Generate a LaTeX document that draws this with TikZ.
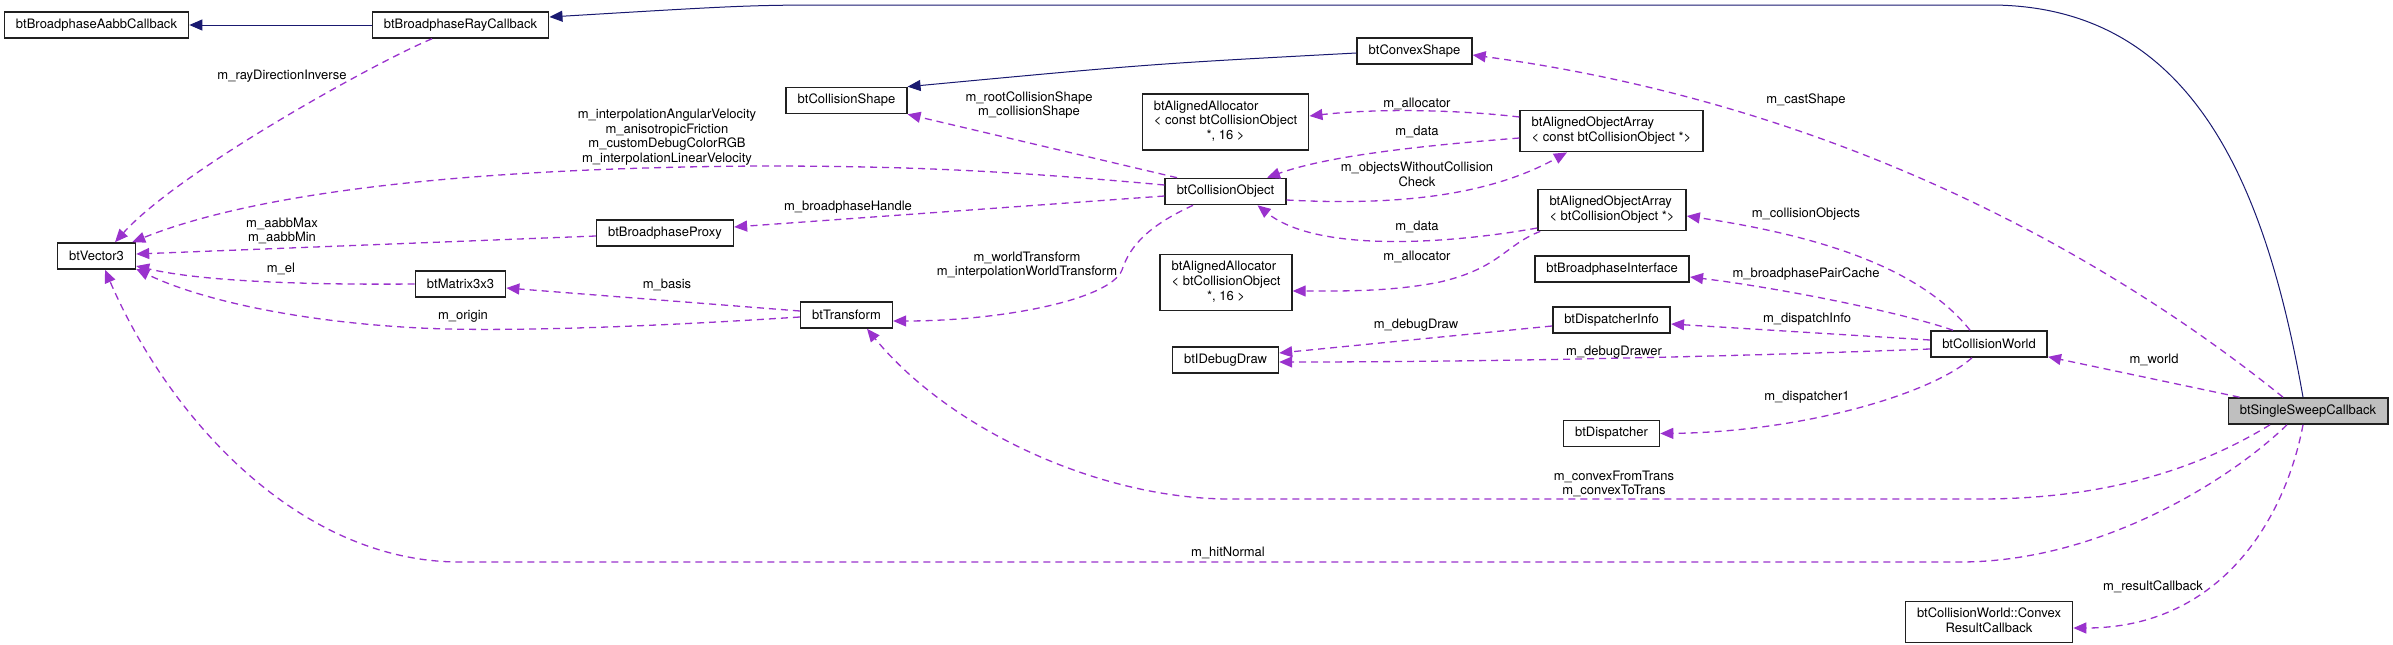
\documentclass[tikz,border=0pt]{standalone}
\usepackage{fontspec}
\setmainfont{TeX Gyre Heros}
\usetikzlibrary{arrows.meta}
\definecolor{membercol}{HTML}{9A32CD}
\definecolor{inhcol}{HTML}{191970}
\definecolor{boxline}{HTML}{202020}
\definecolor{mainfill}{HTML}{BFBFBF}
\begin{document}
\begin{tikzpicture}[
        x=1pt, y=-1pt,
        font=\fontsize{13}{14.6}\selectfont,
        box/.style={draw=boxline, line width=1.6pt, fill=white, minimum height=26pt, inner xsep=11.5pt, inner ysep=6pt},
        mainbox/.style={box, fill=mainfill},
        inherit/.style={draw=inhcol, line width=1pt, -{Triangle[length=13pt,width=11pt]}},
        member/.style={draw=membercol, line width=1.3pt, dash pattern=on 7pt off 5pt, -{Triangle[length=13pt,width=11pt]}},
        lbl/.style={align=center, inner sep=0pt},
    ]
    \useasboundingbox (0,0) rectangle (2393,645);

    \node[box](aabb) at (96.5,25) {btBroadphaseAabbCallback};
    \node[box](ray) at (460.5,25) {btBroadphaseRayCallback};
    \node[box](convex) at (1414.5,51) {btConvexShape};
    \node[box](cshape) at (846.5,100.5) {btCollisionShape};
    \node[box](allocc) at (1225.5,122) {\begin{tabular}{@{}l@{}}btAlignedAllocator\\< const btCollisionObject\\\multicolumn{1}{@{}c@{}}{*, 16 >}\end{tabular}};
    \node[box](arrc) at (1611.5,131) {\begin{tabular}{@{}l@{}}btAlignedObjectArray\\< const btCollisionObject *>\end{tabular}};
    \node[box](cobj) at (1225.5,191.5) {btCollisionObject};
    \node[box](vec) at (96.5,256) {btVector3};
    \node[box](proxy) at (665,233) {btBroadphaseProxy};
    \node[box](mat) at (460.5,284) {btMatrix3x3};
    \node[box](trans) at (846.5,315) {btTransform};
    \node[box](arr) at (1612,210) {\begin{tabular}{@{}l@{}}btAlignedObjectArray\\< btCollisionObject *>\end{tabular}};
    \node[box](alloc) at (1226,282.5) {\begin{tabular}{@{}l@{}}btAlignedAllocator\\< btCollisionObject\\\multicolumn{1}{@{}c@{}}{*, 16 >}\end{tabular}};
    \node[box](bpi) at (1612,269) {btBroadphaseInterface};
    \node[box](dinfo) at (1611.5,320) {btDispatcherInfo};
    \node[box](debug) at (1225.5,360) {btIDebugDraw};
    \node[box](world) at (1989,344) {btCollisionWorld};
    \node[mainbox](sweep) at (2308,411) {btSingleSweepCallback};
    \node[box](disp) at (1611.5,433.5) {btDispatcher};
    \node[box](result) at (1989,622) {\begin{tabular}{@{}c@{}}btCollisionWorld::Convex\\ResultCallback\end{tabular}};

    \draw[inherit] (ray.west) -- (aabb.east);
    \draw[inherit] ([xshift=-5pt]sweep.north) .. controls (2265,180) and (2190,5) .. (1990,5) -- (850,5) .. controls (750,5) .. ([yshift=8pt]ray.east);
    \draw[inherit] ([yshift=-2pt]convex.west) .. controls (1150,64) .. (cshape.north east);

    \draw[member] ([xshift=-28.5pt]ray.south) .. controls (380,60) and (180,170) .. ([xshift=18.5pt]vec.north);
    \draw[member] ([yshift=6.5pt]cobj.west) .. controls (1000,170) and (900,166) .. (760,166) .. controls (450,168) and (250,195) .. ([xshift=-4pt]vec.north east);
    \draw[member] ([yshift=-3pt]proxy.west) -- ([yshift=2pt]vec.east);
    \draw[member] (mat.west) .. controls (300,285) and (200,281) .. ([yshift=-10pt]vec.east);
    \draw[member] ([yshift=-2pt]trans.west) .. controls (600,330) and (480,331) .. (420,328) .. controls (300,322) and (200,300) .. ([yshift=-13pt]vec.east);
    \draw[member] ([yshift=4pt]trans.west) -- ([yshift=-4pt]mat.east);
    \draw[member] ([xshift=-21pt]sweep.south) .. controls (2230,480) and (2100,562) .. (1960,562) -- (460,562) .. controls (300,562) and (170,420) .. ([xshift=8.5pt]vec.south);
    \draw[member] ([xshift=-38pt]sweep.south) .. controls (2180,480) and (2080,499) .. (1980,499) -- (1230,499) .. controls (1100,499) and (950,430) .. ([xshift=20.5pt]trans.south);
    \draw[member] ([xshift=-48.5pt]cobj.north) -- (cshape.south east);
    \draw[member] ([yshift=-4.5pt]cobj.west) -- ([yshift=6pt]proxy.east);
    \draw[member] ([xshift=-32.5pt]cobj.south) .. controls (1150,225) and (1130,245) .. (1122,270) .. controls (1110,300) and (1000,321) .. ([yshift=-6pt]trans.east);
    \draw[member] ([yshift=14pt]arrc.west) .. controls (1460,110) and (1380,108) .. ([yshift=6pt]allocc.east);
    \draw[member] ([yshift=-7pt]arrc.west) .. controls (1430,145) and (1330,155) .. ([xshift=41.5pt]cobj.north);
    \draw[member] ([yshift=-8.5pt]cobj.east) .. controls (1400,206) and (1490,195) .. ([xshift=-44.5pt]arrc.south);
    \draw[member] ([yshift=-18pt]arr.west) .. controls (1460,242) and (1320,255) .. ([xshift=32pt]cobj.south);
    \draw[member] ([xshift=3pt]arr.south west) .. controls (1505,245) and (1500,268) .. (1440,282) .. controls (1390,292) and (1340,291) .. ([yshift=-8.5pt]alloc.east);
    \draw[member] ([xshift=-19pt]world.north) .. controls (1930,280) and (1850,240) .. ([yshift=-6pt]arr.east);
    \draw[member] ([xshift=-36pt]world.north) .. controls (1900,312) and (1780,288) .. ([yshift=-8pt]bpi.east);
    \draw[member] ([yshift=4pt]world.west) -- ([yshift=-4pt]dinfo.east);
    \draw[member] ([yshift=-5pt]world.west) .. controls (1750,356) and (1500,362) .. ([yshift=-2pt]debug.east);
    \draw[member] ([yshift=-6pt]dinfo.west) -- ([yshift=7pt]debug.east);
    \draw[member] ([xshift=-17pt]world.south) .. controls (1930,395) and (1800,432) .. (disp.east);
    \draw[member] ([xshift=-25pt]sweep.north) .. controls (2150,290) and (1880,110) .. ([yshift=-4pt]convex.east);
    \draw[member] ([xshift=12pt]sweep.north west) -- ([yshift=1pt]world.south east);
    \draw[member] ([xshift=-5pt]sweep.south) .. controls (2285,520) and (2220,628) .. ([yshift=-6pt]result.east);

    \node[lbl](lraydir) at (282,76) {m\_rayDirectionInverse};
    \node[lbl](linterp) at (667,137) {m\_interpolationAngularVelocity\\m\_anisotropicFriction\\m\_customDebugColorRGB\\m\_interpolationLinearVelocity};
    \node[lbl](laabb) at (282,231) {m\_aabbMax\\m\_aabbMin};
    \node[lbl](lel) at (281,269) {m\_el};
    \node[lbl](lhandle) at (848,207) {m\_broadphaseHandle};
    \node[lbl](lbasis) at (667,285) {m\_basis};
    \node[lbl](lorigin) at (463,316) {m\_origin};
    \node[lbl](lshape) at (1029,105) {m\_rootCollisionShape\\m\_collisionShape};
    \node[lbl](lwtrans) at (1027,265) {m\_worldTransform\\m\_interpolationWorldTransform};
    \node[lbl](lallocc) at (1417,104) {m\_allocator};
    \node[lbl](ldatac) at (1417,132) {m\_data};
    \node[lbl](lwithout) at (1417,174) {m\_objectsWithoutCollision\\Check};
    \node[lbl](ldata) at (1417,227) {m\_data};
    \node[lbl](lalloc) at (1417,257) {m\_allocator};
    \node[lbl](ldebug) at (1416,325) {m\_debugDraw};
    \node[lbl](ldrawer) at (1614,352) {m\_debugDrawer};
    \node[lbl](lconvtrans) at (1614,484) {m\_convexFromTrans\\m\_convexToTrans};
    \node[lbl](lhit) at (1228,553) {m\_hitNormal};
    \node[lbl](lcast) at (1806,100) {m\_castShape};
    \node[lbl](lobjects) at (1806,214) {m\_collisionObjects};
    \node[lbl](lpair) at (1806,274) {m\_broadphasePairCache};
    \node[lbl](linfo) at (1807,319) {m\_dispatchInfo};
    \node[lbl](ldisp) at (1807,397) {m\_dispatcher1};
    \node[lbl](lworld) at (2154,360) {m\_world};
    \node[lbl](lresult) at (2153,587) {m\_resultCallback};
\end{tikzpicture}
\end{document}
